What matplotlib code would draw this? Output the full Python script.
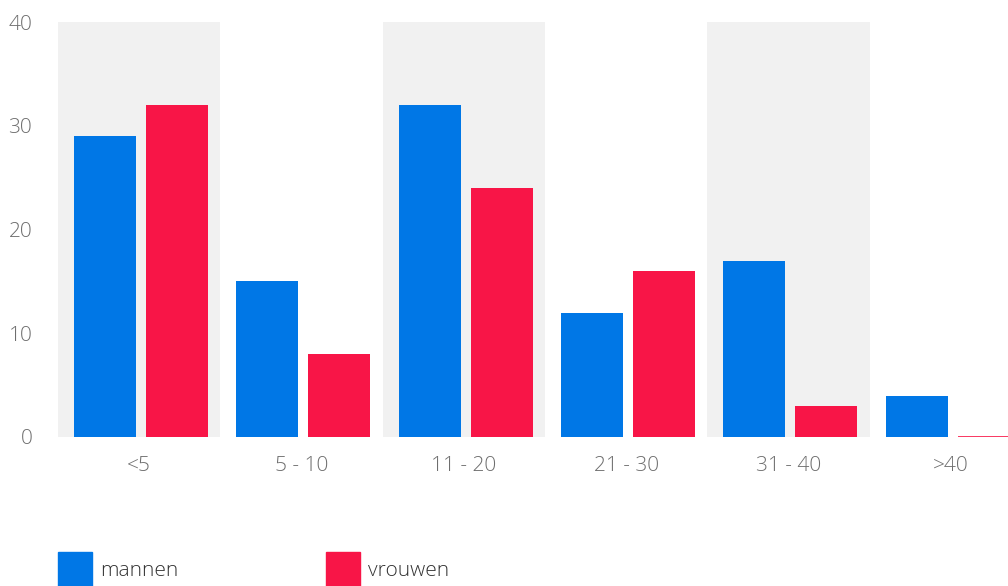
import matplotlib
matplotlib.use("Agg")
import matplotlib.pyplot as plt
from matplotlib.patches import Rectangle

# data
groepen = ["<5", "5 - 10", "11 - 20", "21 - 30", "31 - 40", ">40"]
mannen = [29, 15, 32, 12, 17, 4]
vrouwen = [32, 8, 24, 16, 3, 0]
y_ticks = [0, 10, 20, 30, 40]

blauw = "#0077e6"
rood = "#f81547"
grijs = "#6e6e6e"

plt.rcParams["font.family"] = ["Open Sans", "DejaVu Sans"]

W, H = 1008, 586
fig = plt.figure(figsize=(W / 100, H / 100), dpi=100)
# plot area runs past the right edge, like the original
ax = fig.add_axes([58 / W, 149 / H, 974 / W, 415 / H])

x = list(range(len(groepen)))

# grey bands behind every other group
for i in x:
    if i % 2 == 0:
        ax.axvspan(i - 0.5, i + 0.5, color="#f1f1f1", lw=0, zorder=0)

ax.bar([i - 0.211 for i in x], mannen, width=0.382, color=blauw, lw=0, zorder=2)
# a zero value still shows as a thin line
ax.bar([i + 0.233 for i in x], vrouwen, width=0.382, color=rood,
       edgecolor=rood, linewidth=[0 if v else 1.2 for v in vrouwen], zorder=2)

ax.set_xlim(-0.5, 5.5)
ax.set_ylim(0, 40)
ax.set_yticks(y_ticks)
ax.set_xticks(x)
ax.set_xticklabels(groepen)

for s in ax.spines.values():
    s.set_visible(False)
ax.tick_params(axis="both", length=0, labelsize=15, labelcolor=grijs)
ax.tick_params(axis="y", pad=18.5)
ax.tick_params(axis="x", pad=14)
for lbl in ax.get_xticklabels() + ax.get_yticklabels():
    lbl.set_fontweight("light")

# legend at the bottom, drawn by hand
for x0, kleur, naam in [(58, blauw, "mannen"), (326, rood, "vrouwen")]:
    fig.add_artist(Rectangle((x0 / W, 0), 34 / W, 34 / H,
                             transform=fig.transFigure, color=kleur))
    fig.text((x0 + 42) / W, 15 / H, naam, fontsize=15, color="#333333",
             fontweight="light", va="center", ha="left")

plt.savefig("out.png", dpi=100)
